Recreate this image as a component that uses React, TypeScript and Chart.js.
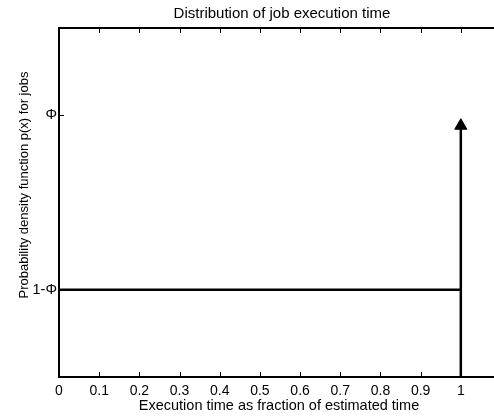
import React, { useEffect, useRef } from 'react';
import { Chart, registerables } from 'chart.js';

Chart.register(...registerables);

const chartTitle = 'Distribution of job execution time';
const xAxisTitle = 'Execution time as fraction of estimated time';
const yAxisTitle = 'Probability density function p(x) for jobs';

const xTickValues = [0, 0.1, 0.2, 0.3, 0.4, 0.5, 0.6, 0.7, 0.8, 0.9, 1];
const xTickLabels = ['0', '0.1', '0.2', '0.3', '0.4', '0.5', '0.6', '0.7', '0.8', '0.9', '1'];
const yTickValues = [0.25, 0.75];
const yTickLabels = ['1-Φ', 'Φ'];

const flatX = [0, 1];
const flatY = [0.25, 0.25];
const spikeX = [1, 1];
const spikeY = [0, 0.72];

const xMin = 0;
const xMax = 1.1;
const yMin = 0;
const yMax = 1;

const FONT = '"Liberation Sans", Arial, Helvetica, sans-serif';

const decorPlugin = {
  id: 'decor',
  afterDraw(chart: any) {
    const { ctx, chartArea, scales } = chart;
    const { left, right, top, bottom } = chartArea;
    const x = scales.x;
    const y = scales.y;
    ctx.save();
    ctx.strokeStyle = '#000';
    ctx.lineWidth = 1;
    ctx.beginPath();
    xTickValues.forEach((v) => {
      const px = Math.round(x.getPixelForValue(v)) + 0.5;
      ctx.moveTo(px, bottom);
      ctx.lineTo(px, bottom - 5);
      ctx.moveTo(px, top);
      ctx.lineTo(px, top + 5);
    });
    yTickValues.forEach((v) => {
      const py = Math.round(y.getPixelForValue(v)) + 0.5;
      ctx.moveTo(left, py);
      ctx.lineTo(left + 5, py);
    });
    ctx.stroke();
    ctx.lineWidth = 2;
    ctx.beginPath();
    ctx.moveTo(left, top);
    ctx.lineTo(right, top);
    ctx.moveTo(right, top);
    ctx.lineTo(right, bottom);
    ctx.stroke();

    const cx = (left + right) / 2;
    ctx.fillStyle = '#000';
    ctx.textAlign = 'center';
    ctx.textBaseline = 'alphabetic';
    ctx.font = `15px ${FONT}`;
    ctx.fillText(chartTitle, cx + 2, 18);
    ctx.font = `14.5px ${FONT}`;
    ctx.fillText(xAxisTitle, cx - 1, 410);
    ctx.font = `13px ${FONT}`;
    ctx.translate(28, 185);
    ctx.rotate(-Math.PI / 2);
    ctx.fillText(yAxisTitle, 0, 0);
    ctx.restore();
  },
};

export default function App() {
  const canvasRef = useRef<HTMLCanvasElement | null>(null);

  useEffect(() => {
    const canvas = canvasRef.current;
    if (!canvas) return;
    const chart = new Chart(canvas, {
      type: 'line',
      data: {
        datasets: [
          {
            data: flatX.map((v, i) => ({ x: v, y: flatY[i] })),
            borderColor: '#000',
            borderWidth: 2.5,
            pointRadius: 0,
            clip: false as any,
          },
          {
            data: spikeX.map((v, i) => ({ x: v, y: spikeY[i] })),
            borderColor: '#000',
            borderWidth: 2.5,
            pointRadius: spikeY.map((_, i) => (i === spikeY.length - 1 ? 7 : 0)),
            pointStyle: 'triangle',
            pointBackgroundColor: '#000',
            pointBorderColor: '#000',
            pointBorderWidth: 1,
            clip: false as any,
          },
        ],
      },
      options: {
        animation: false,
        responsive: false,
        layout: { padding: { left: 0, right: 19, top: 28, bottom: 0 } },
        plugins: {
          legend: { display: false },
          title: { display: false },
          tooltip: { enabled: false },
        },
        scales: {
          x: {
            type: 'linear',
            min: xMin,
            max: xMax,
            afterBuildTicks: (scale: any) => {
              scale.ticks = xTickValues.map((v) => ({ value: v }));
            },
            afterFit: (scale: any) => {
              scale.height = 42;
            },
            grid: { display: false, drawTicks: false },
            border: { display: true, color: '#000', width: 2 },
            ticks: {
              autoSkip: false,
              maxRotation: 0,
              padding: 6,
              color: '#000',
              font: { family: FONT, size: 14 },
              callback: (value: any) => {
                const i = xTickValues.findIndex((t) => Math.abs(t - Number(value)) < 1e-9);
                return i >= 0 ? xTickLabels[i] : '';
              },
            },
          },
          y: {
            type: 'linear',
            min: yMin,
            max: yMax,
            afterBuildTicks: (scale: any) => {
              scale.ticks = yTickValues.map((v) => ({ value: v }));
            },
            afterFit: (scale: any) => {
              scale.width = 59;
            },
            grid: { display: false, drawTicks: false },
            border: { display: true, color: '#000', width: 2 },
            ticks: {
              autoSkip: false,
              padding: 2,
              color: '#000',
              font: { family: FONT, size: 14.5 },
              callback: (value: any) => {
                const i = yTickValues.findIndex((t) => Math.abs(t - Number(value)) < 1e-9);
                return i >= 0 ? yTickLabels[i] : '';
              },
            },
          },
        },
      },
      plugins: [decorPlugin],
    });
    return () => chart.destroy();
  }, []);

  return (
    <div
      style={{
        position: 'fixed',
        left: 0,
        top: 0,
        width: 494,
        height: 419,
        overflow: 'hidden',
        background: '#fff',
      }}
    >
      <canvas ref={canvasRef} width={520} height={419} style={{ display: 'block' }} />
    </div>
  );
}
